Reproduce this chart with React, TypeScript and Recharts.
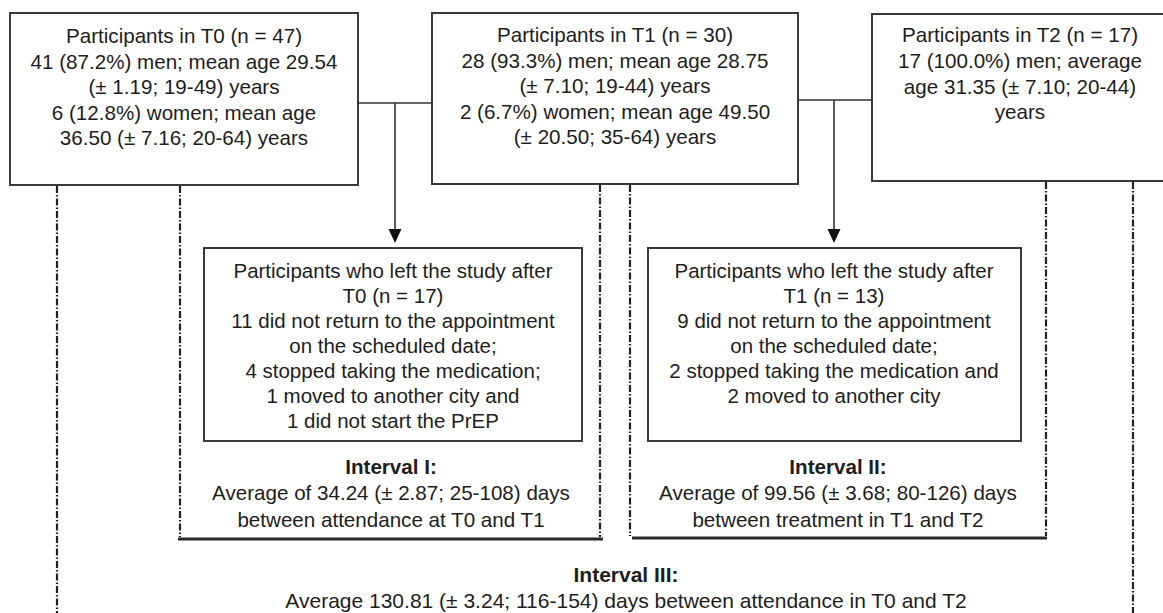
import React from 'react';
import { ComposedChart, XAxis, YAxis, ReferenceArea, ReferenceLine, Scatter } from 'recharts';

// ---------- content ----------
const t0Lines = [
  'Participants in T0 (n = 47)',
  '41 (87.2%) men; mean age 29.54',
  '(± 1.19; 19-49) years',
  '6 (12.8%) women; mean age',
  '36.50 (± 7.16; 20-64) years',
];
const t1Lines = [
  'Participants in T1 (n = 30)',
  '28 (93.3%) men; mean age 28.75',
  '(± 7.10; 19-44) years',
  '2 (6.7%) women; mean age 49.50',
  '(± 20.50; 35-64) years',
];
const t2Lines = [
  'Participants in T2 (n = 17)',
  '17 (100.0%) men; average',
  'age 31.35 (± 7.10; 20-44)',
  'years',
];
const leftAfterT0Lines = [
  'Participants who left the study after',
  'T0 (n = 17)',
  '11 did not return to the appointment',
  'on the scheduled date;',
  '4 stopped taking the medication;',
  '1 moved to another city and',
  '1 did not start the PrEP',
];
const leftAfterT1Lines = [
  'Participants who left the study after',
  'T1 (n = 13)',
  '9 did not return to the appointment',
  'on the scheduled date;',
  '2 stopped taking the medication and',
  '2 moved to another city',
];
const interval1Lines = ['Interval I:', 'Average of 34.24 (± 2.87; 25-108) days', 'between attendance at T0 and T1'];
const interval2Lines = ['Interval II:', 'Average of 99.56 (± 3.68; 80-126) days', 'between treatment in T1 and T2'];
const interval3Lines = ['Interval III:', 'Average 130.81 (± 3.24; 116-154) days between attendance in T0 and T2'];

// ---------- layout ----------
const W = 1163;
const H = 613;
const FONT = '"Liberation Sans", Arial, Helvetica, sans-serif';
const INK = '#1d1d1d';
const LINE = '#333333';

const boxes = [
  { x1: 10, y1: 13, x2: 358, y2: 185 },
  { x1: 432, y1: 13, x2: 798, y2: 184 },
  { x1: 872, y1: 14, x2: 1170, y2: 181 },
  { x1: 204, y1: 248, x2: 582, y2: 441 },
  { x1: 648, y1: 248, x2: 1021, y2: 441 },
];

const textBlocks = [
  { lines: t0Lines, cx: 184, y0: 35.5, step: 25.5, size: 20.6, boldFirst: false },
  { lines: t1Lines, cx: 615, y0: 34.5, step: 25.5, size: 20.6, boldFirst: false },
  { lines: t2Lines, cx: 1020, y0: 34.5, step: 25.8, size: 20.6, boldFirst: false },
  { lines: leftAfterT0Lines, cx: 393, y0: 270, step: 25, size: 20.5, boldFirst: false },
  { lines: leftAfterT1Lines, cx: 834, y0: 270, step: 25, size: 20.5, boldFirst: false },
  { lines: interval1Lines, cx: 391, y0: 466, step: 26.5, size: 20.6, boldFirst: true },
  { lines: interval2Lines, cx: 838, y0: 466, step: 26.5, size: 20.6, boldFirst: true },
  { lines: interval3Lines, cx: 626, y0: 574, step: 26, size: 21, boldFirst: true },
];

const textPoints = textBlocks.flatMap((b) =>
  b.lines.map((t, i) => ({ x: b.cx, y: b.y0 + i * b.step, text: t, size: b.size, bold: b.boldFirst && i === 0 }))
);

const solidSegments = [
  [{ x: 358, y: 103 }, { x: 432, y: 103 }],
  [{ x: 395, y: 103 }, { x: 395, y: 236 }],
  [{ x: 798, y: 100 }, { x: 872, y: 100 }],
  [{ x: 834, y: 100 }, { x: 834, y: 236 }],
];

const underlineSegments = [
  [{ x: 178, y: 539 }, { x: 603, y: 539 }],
  [{ x: 632, y: 538 }, { x: 1047, y: 538 }],
];

const dashedSegments = [
  [{ x: 57, y: 186 }, { x: 57, y: 613 }],
  [{ x: 180, y: 186 }, { x: 180, y: 537 }],
  [{ x: 600, y: 185 }, { x: 600, y: 537 }],
  [{ x: 630, y: 185 }, { x: 630, y: 536 }],
  [{ x: 1046, y: 182 }, { x: 1046, y: 536 }],
  [{ x: 1133, y: 182 }, { x: 1133, y: 613 }],
];

const arrowTips = [
  { x: 395, y: 243 },
  { x: 834, y: 243 },
];

const TextShape = (props: any) => {
  const { cx, cy, payload } = props;
  return (
    <text
      x={cx}
      y={cy}
      textAnchor="middle"
      dominantBaseline="central"
      fontFamily={FONT}
      fontSize={payload.size}
      fontWeight={payload.bold ? 700 : 400}
      fill={INK}
    >
      {payload.text}
    </text>
  );
};

const ArrowShape = (props: any) => {
  const { cx, cy } = props;
  return <polygon points={`${cx - 6.5},${cy - 14} ${cx + 6.5},${cy - 14} ${cx},${cy}`} fill="#111" />;
};

export default function App() {
  return (
    <div style={{ position: 'absolute', left: 0, top: 0, width: W, height: H, background: '#fff' }}>
      <ComposedChart width={W} height={H} margin={{ top: 0, right: 0, bottom: 0, left: 0 }}>
        <XAxis type="number" dataKey="x" domain={[0, W]} hide allowDataOverflow />
        <YAxis type="number" dataKey="y" domain={[0, H]} reversed hide allowDataOverflow />
        {dashedSegments.map((s, i) => (
          <ReferenceLine
            key={`d${i}`}
            segment={s}
            stroke="#222222"
            strokeWidth={2.2}
            strokeDasharray="7 2 1.5 2"
            ifOverflow="visible"
          />
        ))}
        {solidSegments.map((s, i) => (
          <ReferenceLine key={`s${i}`} segment={s} stroke={LINE} strokeWidth={1.6} ifOverflow="visible" />
        ))}
        {underlineSegments.map((s, i) => (
          <ReferenceLine key={`u${i}`} segment={s} stroke="#2a2a2a" strokeWidth={3} ifOverflow="visible" />
        ))}
        {boxes.map((b, i) => (
          <ReferenceArea
            key={`b${i}`}
            x1={b.x1}
            x2={b.x2}
            y1={b.y1}
            y2={b.y2}
            fill="#ffffff"
            fillOpacity={1}
            stroke="#3a3a3a"
            strokeWidth={2}
            ifOverflow="visible"
          />
        ))}
        <Scatter data={arrowTips} dataKey="y" shape={ArrowShape} isAnimationActive={false} />
        <Scatter data={textPoints} dataKey="y" shape={TextShape} isAnimationActive={false} />
      </ComposedChart>
    </div>
  );
}
